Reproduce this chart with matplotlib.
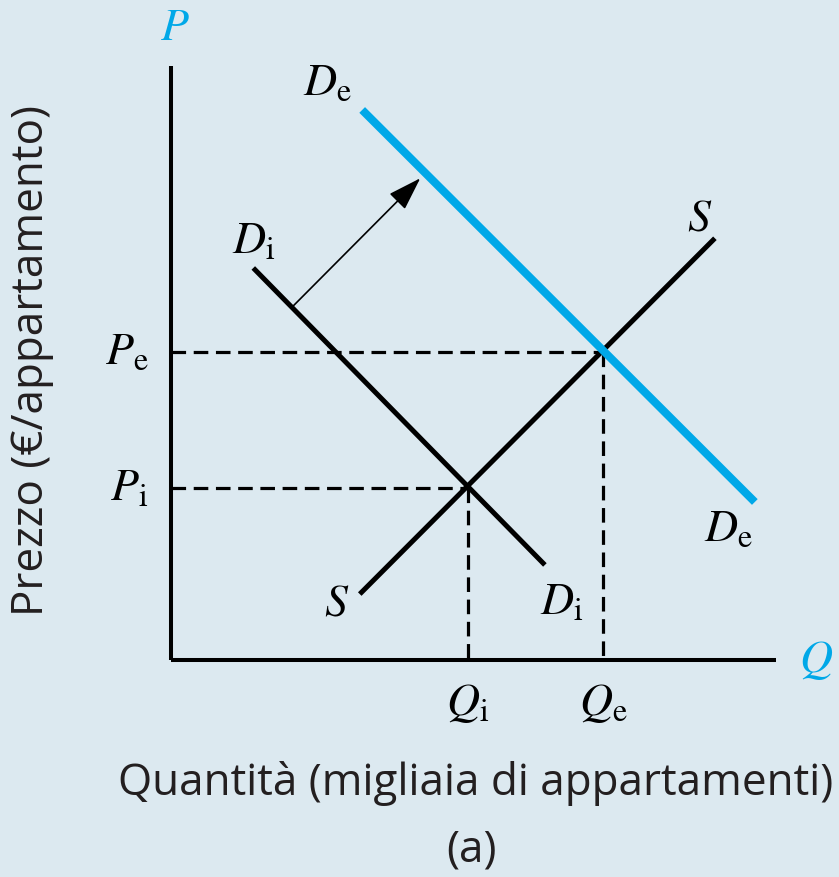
import matplotlib
matplotlib.use('Agg')
import matplotlib.pyplot as plt

plt.rcParams['mathtext.fontset'] = 'stix'
plt.rcParams['lines.scale_dashes'] = False

# Assi (unità arbitrarie)
Q_MAX = 10.0
P_MAX = 10.0

# Curve: estremi dei segmenti (quantità, prezzo)
di_q = [1.36, 6.18]     # domanda iniziale
di_p = [6.60, 1.60]
s_q = [3.12, 8.99]      # offerta
s_p = [1.11, 7.10]
de_q = [3.16, 9.65]     # domanda finale
de_p = [9.26, 2.66]

# Equilibri: iniziale, finale
eq_q = [4.91, 7.14]
eq_p = [2.90, 5.19]
eq_sub = ['i', 'e']

# Freccia dello spostamento della domanda
shift_from = (2.00, 5.94)
shift_to = (4.12, 8.11)

bg = '#dce9f0'
blu = '#00a8e8'

fig = plt.figure(figsize=(8.39, 8.77), dpi=100, facecolor=bg)
ax = fig.add_axes([171/839, 1 - 660/877, 605/839, 594/877])
ax.set_facecolor('none')
ax.set_xlim(0, Q_MAX)
ax.set_ylim(0, P_MAX)

for side in ['top', 'right']:
    ax.spines[side].set_visible(False)
for side in ['left', 'bottom']:
    ax.spines[side].set_linewidth(2.9)
    ax.spines[side].set_capstyle('butt')
ax.set_xticks([])
ax.set_yticks([])

# Linee tratteggiate degli equilibri
for q, p in zip(eq_q, eq_p):
    ax.plot([0, q], [p, p], color='black', lw=2.3, dashes=(10.5, 5.5), clip_on=False)
    ax.plot([q, q], [p, 0], color='black', lw=2.3, dashes=(10.5, 5.5), clip_on=False)

# Curve
ax.plot(di_q, di_p, color='black', lw=3.6, solid_capstyle='butt')
ax.plot(s_q, s_p, color='black', lw=3.6, solid_capstyle='butt')
ax.plot(de_q, de_p, color=blu, lw=5.8, solid_capstyle='butt')

# Freccia
ax.annotate('', xy=shift_to, xytext=shift_from,
            arrowprops=dict(arrowstyle='-|>,head_length=0.55,head_width=0.18',
                            lw=1.2, color='black', mutation_scale=38,
                            shrinkA=0, shrinkB=0))

fs = 33
ax.text(0.07, 10.64, '$P$', color=blu, fontsize=fs, ha='center', va='center', clip_on=False)
ax.text(10.66, 0.0, '$Q$', color=blu, fontsize=fs, ha='center', va='center', clip_on=False)

ax.text(2.58, 9.73, r'$D_{\mathrm{e}}$', fontsize=fs, ha='center', va='center')
ax.text(9.21, 2.22, r'$D_{\mathrm{e}}$', fontsize=fs, ha='center', va='center')
ax.text(1.37, 7.07, r'$D_{\mathrm{i}}$', fontsize=fs, ha='center', va='center')
ax.text(6.46, 0.98, r'$D_{\mathrm{i}}$', fontsize=fs, ha='center', va='center')
ax.text(8.74, 7.44, '$S$', fontsize=fs, ha='center', va='center')
ax.text(2.74, 0.96, '$S$', fontsize=fs, ha='center', va='center')

for q, p, sub in zip(eq_q, eq_p, eq_sub):
    ax.text(-0.37, p, r'$P_{\mathrm{%s}}$' % sub, fontsize=fs, ha='right', va='center', clip_on=False)
    ax.text(q, -0.71, r'$Q_{\mathrm{%s}}$' % sub, fontsize=fs, ha='center', va='center', clip_on=False)

lab_font = ['Open Sans', 'DejaVu Sans']
fig.text(32/839, 1 - 360/877, 'Prezzo (€/appartamento)', rotation=90,
         fontsize=31.7, family=lab_font, ha='center', va='center', color='#231f20')
fig.text(476/839, 1 - 784/877, 'Quantità (migliaia di appartamenti)',
         fontsize=31.7, family=lab_font, ha='center', va='center', color='#231f20')
fig.text(472/839, 1 - 850/877, '(a)',
         fontsize=31.7, family=lab_font, ha='center', va='center', color='#231f20')

fig.savefig('out.png', dpi=100, facecolor=bg)
